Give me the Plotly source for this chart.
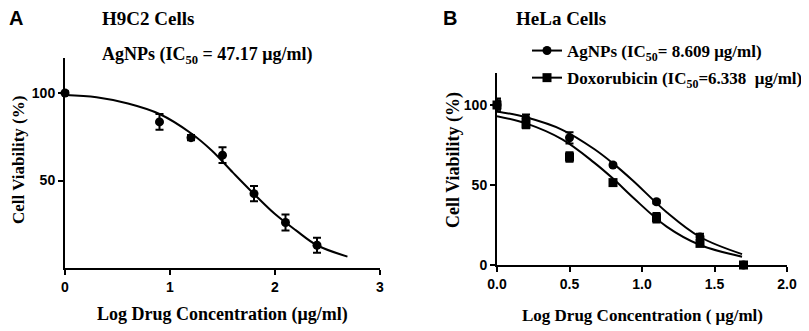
import plotly.graph_objects as go

# browser window size, and the page's default body margin
WIN_W, WIN_H = 809, 331
OFF = 8
W, H = WIN_W - OFF, WIN_H - OFF

# ---------------- Panel A data (H9C2 cells, AgNPs) ----------------
a_log_conc = [0.0, 0.9, 1.2, 1.5, 1.8, 2.1, 2.4]
a_viability = [100.0, 83.5, 74.5, 64.5, 42.5, 26.0, 13.0]
a_error = [1.0, 4.5, 1.5, 4.5, 4.3, 4.6, 4.3]
a_fit_x = [0.0, 0.3, 0.6, 0.9, 1.2, 1.4, 1.6, 1.8, 2.0, 2.2, 2.4, 2.69]
a_fit_y = [98.8, 97.6, 94.0, 88.0, 77.0, 67.0, 54.5, 42.3, 30.8, 21.5, 13.0, 6.5]

# ---------------- Panel B data (HeLa cells) ----------------
b_log_conc = [0.0, 0.2, 0.5, 0.8, 1.1, 1.4, 1.7]
b_agnps = [100.0, 91.5, 79.5, 62.5, 39.5, 17.5, 0.0]
b_agnps_err = [3.0, 2.5, 3.5, 1.0, 1.0, 2.0, 0.5]
b_dox = [100.0, 88.0, 67.5, 51.5, 29.5, 13.5, 0.0]
b_dox_err = [4.0, 2.5, 3.0, 1.5, 3.0, 1.5, 0.5]
b_agnps_fit_x = [0.0, 0.2, 0.45, 0.67, 0.8, 0.94, 1.17, 1.4, 1.69]
b_agnps_fit_y = [96.0, 92.3, 84.5, 72.5, 63.5, 52.5, 33.0, 17.5, 6.8]
b_dox_fit_x = [0.0, 0.2, 0.45, 0.67, 0.8, 0.94, 1.17, 1.4, 1.69]
b_dox_fit_y = [93.0, 88.5, 78.5, 64.0, 54.0, 42.0, 24.0, 12.5, 5.2]

a_xticks = [0, 1, 2, 3]
a_yticks = [50, 100]
b_xticks = [0.0, 0.5, 1.0, 1.5, 2.0]
b_xticklabels = ["0.0", "0.5", "1.0", "1.5", "2.0"]
b_yticks = [0, 50, 100]

legend_names = ["AgNPs (IC<sub>50</sub>= 8.609 μg/ml)",
                "Doxorubicin (IC<sub>50</sub>=6.338  μg/ml)"]


def px(x):
    return (x - OFF) / W


def py(y):
    return 1 - (y - OFF) / H


SERIF = "Liberation Serif"
SANS = "Liberation Sans"

fig = go.Figure()

# Panel A
fig.add_trace(go.Scatter(x=a_fit_x, y=a_fit_y, mode="lines",
                         line=dict(color="black", width=2, shape="spline"),
                         xaxis="x", yaxis="y", showlegend=False, hoverinfo="skip"))
fig.add_trace(go.Scatter(x=a_log_conc, y=a_viability, mode="markers",
                         marker=dict(symbol="circle", size=9, color="black"),
                         error_y=dict(type="data", array=a_error, color="black",
                                      thickness=2, width=4),
                         cliponaxis=False, xaxis="x", yaxis="y", showlegend=False))

# Panel B
fig.add_trace(go.Scatter(x=b_agnps_fit_x, y=b_agnps_fit_y, mode="lines",
                         line=dict(color="black", width=2, shape="spline"),
                         xaxis="x2", yaxis="y2", showlegend=False, hoverinfo="skip"))
fig.add_trace(go.Scatter(x=b_dox_fit_x, y=b_dox_fit_y, mode="lines",
                         line=dict(color="black", width=2, shape="spline"),
                         xaxis="x2", yaxis="y2", showlegend=False, hoverinfo="skip"))
fig.add_trace(go.Scatter(x=b_log_conc, y=b_agnps, mode="markers",
                         marker=dict(symbol="circle", size=9, color="black"),
                         error_y=dict(type="data", array=b_agnps_err, color="black",
                                      thickness=2, width=4),
                         cliponaxis=False, xaxis="x2", yaxis="y2", showlegend=False))
fig.add_trace(go.Scatter(x=b_log_conc, y=b_dox, mode="markers",
                         marker=dict(symbol="square", size=9, color="black"),
                         error_y=dict(type="data", array=b_dox_err, color="black",
                                      thickness=2, width=4),
                         cliponaxis=False, xaxis="x2", yaxis="y2", showlegend=False))

# legend entries (line + marker symbol)
for name, sym, grp in [(legend_names[0], "circle", "a"), (legend_names[1], "square", "b")]:
    fig.add_trace(go.Scatter(x=[None], y=[None], mode="lines+markers", name=name,
                             line=dict(color="black", width=2),
                             marker=dict(symbol=sym, size=9, color="black"),
                             xaxis="x2", yaxis="y2", legendgroup=grp))

axis_common = dict(showline=True, linewidth=2, linecolor="black", ticks="outside",
                   ticklen=5, tickwidth=2, tickcolor="black", showgrid=False,
                   zeroline=False, mirror=False, automargin=False,
                   tickfont=dict(family=SANS, size=14, color="black", weight="bold"))

fig.update_layout(
    width=W, height=H,
    margin=dict(l=0, r=0, t=0, b=0, autoexpand=False),
    paper_bgcolor="white", plot_bgcolor="white",
    xaxis=dict(domain=[px(65), px(380)], range=[0, 3], tickvals=a_xticks,
               anchor="y", **axis_common),
    yaxis=dict(domain=[py(268), py(58)], range=[0, 120], tickvals=a_yticks,
               anchor="x", **axis_common),
    xaxis2=dict(domain=[px(497), px(787)], range=[0, 2], tickvals=b_xticks,
                ticktext=b_xticklabels, anchor="y2", **axis_common),
    yaxis2=dict(domain=[py(265), py(73)], range=[0, 120], tickvals=b_yticks,
                anchor="x2", **axis_common),
    legend=dict(x=px(527), y=py(33), xanchor="left", yanchor="top",
                bgcolor="rgba(0,0,0,0)", itemwidth=30, tracegroupgap=2,
                font=dict(family=SERIF, size=17, color="black", weight="bold")),
)

ann = []


def add_text(text, x, y, size, family, angle=0, xanchor="center"):
    ann.append(dict(text=text, x=px(x), y=py(y), xref="paper", yref="paper",
                    xanchor=xanchor, yanchor="middle", showarrow=False, textangle=angle,
                    font=dict(family=family, size=size, color="black", weight="bold")))


add_text("A", 16, 18, 20, SANS)
add_text("B", 450, 18, 20, SANS)
add_text("H9C2 Cells", 148, 19, 19, SERIF)
add_text("HeLa Cells", 561, 18, 19, SERIF)
add_text("AgNPs (IC<sub>50</sub> = 47.17 μg/ml)", 207, 56, 18, SERIF)
add_text("Cell Viability (%)", 18, 160, 17, SERIF, angle=-90)
add_text("Cell Viability (%)", 453, 160, 18, SERIF, angle=-90)
add_text("Log Drug Concentration (μg/ml)", 222, 314, 18, SERIF)
add_text("Log Drug Concentration ( μg/ml)", 642, 315, 17, SERIF)
fig.update_layout(annotations=ann)

fig.write_html("out.html")
